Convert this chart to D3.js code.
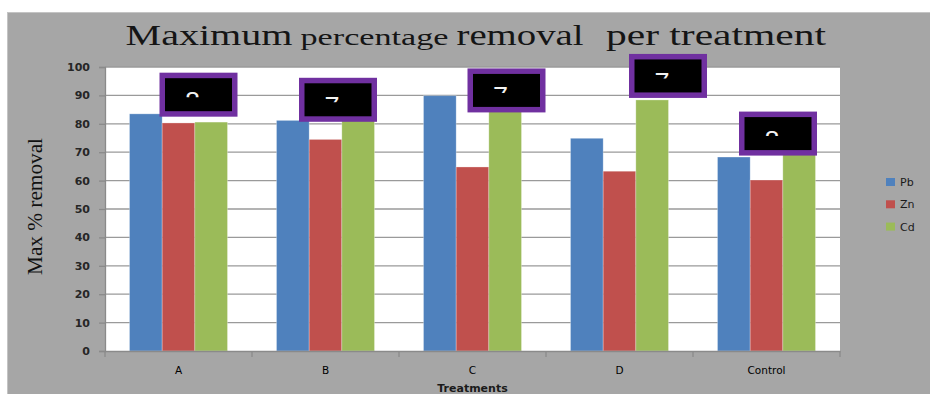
<!DOCTYPE html>
<html>
<head>
<meta charset="utf-8">
<script src="https://cdn.jsdelivr.net/npm/d3@7"></script>
<style>
  html, body { margin: 0; padding: 0; background: #ffffff; }
  svg { display: block; }
</style>
</head>
<body>
<svg id="chart" width="930" height="394"></svg>
<script>
// Treatments on the x axis and metal series
const categories = ["A", "B", "C", "D", "Control"];
const seriesNames = ["Pb", "Zn", "Cd"];
const pbValues = [83.5, 81.2, 89.9, 74.9, 68.3];
const znValues = [80.3, 74.5, 64.8, 63.3, 60.2];
const cdValues = [80.6, 85.0, 86.0, 88.4, 70.0];
const yTickValues = [0, 10, 20, 30, 40, 50, 60, 70, 80, 90, 100];
const seriesColors = ["#4F81BD", "#C0504D", "#9BBB59"];

// Label callout boxes: category, glyph shown, horizontal offset (px) and top (in %)
const calloutCats = ["A", "B", "C", "D", "Control"];
const calloutGlyphs = ["8", "7", "7", "7", "8"];
const calloutDx = [20, 12.5, 34, 48.5, 11.5];
const calloutTop = [98.0, 96.2, 99.5, 104.6, 84.3];

const seriesValues = [pbValues, znValues, cdValues];

const svg = d3.select("#chart");
const plot = { left: 105, right: 840, top: 67, bottom: 351 };

// chart background
svg.append("rect")
  .attr("x", 7.5).attr("y", 12.5)
  .attr("width", 930).attr("height", 400)
  .attr("fill", "#a6a6a6")
  .attr("stroke", "#c4c4c4").attr("stroke-width", 1);

// plot area
svg.append("rect")
  .attr("x", plot.left).attr("y", plot.top)
  .attr("width", plot.right - plot.left).attr("height", plot.bottom - plot.top)
  .attr("fill", "#ffffff");

const x0 = d3.scaleBand().domain(categories).range([plot.left, plot.right]).padding(0);
const x1 = d3.scaleBand().domain(seriesNames).range([0, x0.bandwidth()])
  .paddingInner(0).paddingOuter(0.75);
const y = d3.scaleLinear().domain([0, 100]).range([plot.bottom, plot.top]);
const color = d3.scaleOrdinal().domain(seriesNames).range(seriesColors);

// gridlines
svg.append("g")
  .selectAll("line")
  .data(yTickValues.filter(v => v > 0))
  .join("line")
  .attr("x1", plot.left).attr("x2", plot.right)
  .attr("y1", d => y(d)).attr("y2", d => y(d))
  .attr("stroke", "#9a9a9a").attr("stroke-width", 1.3);

// bars
const rows = categories.map((c, i) => ({
  cat: c,
  vals: seriesNames.map((s, j) => ({ s, v: seriesValues[j][i] }))
}));

svg.append("g")
  .selectAll("g")
  .data(rows)
  .join("g")
  .attr("transform", d => `translate(${x0(d.cat)},0)`)
  .selectAll("rect")
  .data(d => d.vals)
  .join("rect")
  .attr("x", d => x1(d.s))
  .attr("y", d => y(d.v))
  .attr("width", x1.bandwidth())
  .attr("height", d => y(0) - y(d.v))
  .attr("fill", d => color(d.s))
  .attr("stroke", "rgba(255,255,255,0.35)")
  .attr("stroke-width", 0.8);

// y axis
const yAxis = svg.append("g")
  .attr("transform", `translate(${plot.left},0)`)
  .call(d3.axisLeft(y).tickValues(yTickValues).tickSize(6).tickPadding(9).tickFormat(d3.format("d")));
yAxis.select(".domain").attr("stroke", "#8a8a8a").attr("stroke-width", 1.3);
yAxis.selectAll(".tick line").attr("stroke", "#8a8a8a").attr("stroke-width", 1.3);
yAxis.selectAll(".tick text")
  .attr("font-family", "DejaVu Sans, sans-serif")
  .attr("font-weight", "bold")
  .attr("font-size", 11)
  .attr("fill", "#262626");

// x axis
const xAxis = svg.append("g")
  .attr("transform", `translate(0,${plot.bottom})`)
  .call(d3.axisBottom(x0).tickSize(0).tickPadding(16));
xAxis.select(".domain").attr("stroke", "#8a8a8a").attr("stroke-width", 1.3);
xAxis.selectAll(".tick text")
  .attr("font-family", "DejaVu Sans, sans-serif")
  .attr("font-size", 10.5)
  .attr("fill", "#000");
// category boundary ticks
svg.append("g")
  .selectAll("line")
  .data(categories.map(c => x0(c)).concat([plot.right]))
  .join("line")
  .attr("x1", d => d).attr("x2", d => d)
  .attr("y1", plot.bottom).attr("y2", plot.bottom + 6)
  .attr("stroke", "#8a8a8a").attr("stroke-width", 1.3);

// axis titles
svg.append("text")
  .attr("x", (plot.left + plot.right) / 2).attr("y", 392)
  .attr("text-anchor", "middle")
  .attr("font-family", "DejaVu Sans, sans-serif")
  .attr("font-weight", "bold")
  .attr("font-size", 11)
  .attr("fill", "#1a1a1a")
  .text("Treatments");

svg.append("text")
  .attr("transform", "translate(41.5,206.5) rotate(-90)")
  .attr("text-anchor", "middle")
  .attr("font-family", "Liberation Serif, serif")
  .attr("font-size", 20)
  .attr("fill", "#111")
  .attr("textLength", 137)
  .attr("lengthAdjust", "spacingAndGlyphs")
  .text("Max % removal");

// chart title, mixed sizes
const titleParts = [
  { t: "Maximum", x: 125.5, w: 167, size: 30 },
  { t: "percentage", x: 300.5, w: 148, size: 24 },
  { t: "removal", x: 456.5, w: 127, size: 30 },
  { t: "per treatment", x: 606, w: 220, size: 30 }
];
svg.append("g")
  .selectAll("text")
  .data(titleParts)
  .join("text")
  .attr("x", d => d.x).attr("y", 45)
  .attr("font-family", "Liberation Serif, serif")
  .attr("font-size", d => d.size)
  .attr("fill", "#151515")
  .attr("textLength", d => d.w)
  .attr("lengthAdjust", "spacingAndGlyphs")
  .text(d => d.t);

// legend
const legend = svg.append("g")
  .selectAll("g")
  .data(seriesNames)
  .join("g")
  .attr("transform", (d, i) => `translate(886,${182 + i * 22.3})`);
legend.append("rect")
  .attr("x", 0).attr("y", -4)
  .attr("width", 9).attr("height", 8)
  .attr("fill", d => color(d));
legend.append("text")
  .attr("x", 14).attr("y", 4)
  .attr("font-family", "DejaVu Sans, sans-serif")
  .attr("font-size", 11)
  .attr("fill", "#1a1a1a")
  .text(d => d);

// label callout boxes
const boxW = 78, boxH = 44, border = 5.5;
const callouts = calloutCats.map((c, i) => ({
  cx: x0(c) + x0.bandwidth() / 2 + calloutDx[i],
  top: y(calloutTop[i]),
  glyph: calloutGlyphs[i],
  id: "clip" + i
}));

const defs = svg.append("defs");
defs.selectAll("clipPath")
  .data(callouts)
  .join("clipPath")
  .attr("id", d => d.id)
  .append("rect")
  .attr("x", d => d.cx - boxW / 2)
  .attr("y", d => d.top)
  .attr("width", boxW)
  .attr("height", 24.5);

const cg = svg.append("g")
  .selectAll("g")
  .data(callouts)
  .join("g");
cg.append("rect")
  .attr("x", d => d.cx - boxW / 2 + border / 2)
  .attr("y", d => d.top + border / 2)
  .attr("width", boxW - border)
  .attr("height", boxH - border)
  .attr("fill", "#000000")
  .attr("stroke", "#7030A0")
  .attr("stroke-width", border);
cg.append("text")
  .attr("x", d => d.cx - 6)
  .attr("y", d => d.top + 38)
  .attr("text-anchor", "middle")
  .attr("font-family", "Liberation Sans, sans-serif")
  .attr("font-size", 27)
  .attr("fill", "#f2f2f2")
  .attr("clip-path", d => `url(#${d.id})`)
  .text(d => d.glyph);
</script>
</body>
</html>
